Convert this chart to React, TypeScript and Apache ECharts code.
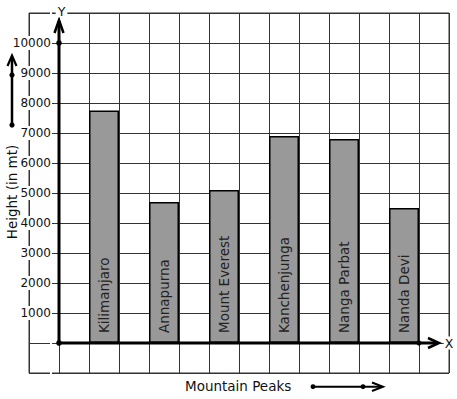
import React, { useEffect, useRef } from "react";
import * as echarts from "echarts";

// Data
const peaks = ["Kilimanjaro", "Annapurna", "Mount Everest", "Kanchenjunga", "Nanga Parbat", "Nanda Devi"];
const heights = [7750, 4700, 5100, 6900, 6800, 4500];
const slotCount = 14; // grid columns on the x side
const peakSlots = [2, 4, 6, 8, 10, 12]; // which column each peak's bar sits in
const yTickLabels = [1000, 2000, 3000, 4000, 5000, 6000, 7000, 8000, 9000, 10000];
const yAxisTitle = "Height (in mt)";
const xAxisTitle = "Mountain Peaks";

const FONT = "DejaVu Sans";
const GRID_COLOR = "#333";

export default function App() {
  const ref = useRef<HTMLDivElement>(null);

  useEffect(() => {
    if (!ref.current) return;
    const chart = echarts.init(ref.current, null, { renderer: "svg" });

    const categories = Array.from({ length: slotCount }, (_, i) => String(i));
    const barData = categories.map((_, i) => {
      const k = peakSlots.indexOf(i);
      return k >= 0 ? heights[k] : "-";
    });

    chart.setOption({
      animation: false,
      textStyle: { fontFamily: FONT },
      grid: {
        left: 29,
        top: 13,
        width: 420,
        height: 360,
        show: true,
        borderColor: GRID_COLOR,
        borderWidth: 1,
        backgroundColor: "transparent",
      },
      xAxis: {
        type: "category",
        data: categories,
        boundaryGap: true,
        z: 0,
        axisLine: { show: false },
        axisTick: { show: false },
        axisLabel: { show: false },
        splitLine: { show: true, interval: 0, lineStyle: { color: GRID_COLOR, width: 1 } },
      },
      yAxis: {
        type: "value",
        min: -1000,
        max: 11000,
        interval: 1000,
        offset: -30,
        z: 1,
        axisLine: { show: false },
        axisTick: { show: false },
        axisLabel: {
          margin: 7,
          fontSize: 12,
          fontFamily: FONT,
          color: "#111",
          backgroundColor: "#fff",
          padding: [1, 1],
          formatter: (v: number) => (yTickLabels.indexOf(v) >= 0 ? String(v) : ""),
        },
        splitLine: { show: true, lineStyle: { color: GRID_COLOR, width: 1 } },
      },
      series: [
        {
          type: "bar",
          data: barData,
          barWidth: "100%",
          barCategoryGap: 0,
          z: 2,
          itemStyle: { color: "#999999", borderColor: "#000", borderWidth: 1.5 },
          label: {
            show: true,
            position: "insideBottom",
            rotate: 90,
            align: "left",
            verticalAlign: "middle",
            distance: 10,
            fontSize: 13.5,
            fontFamily: FONT,
            color: "#222",
            formatter: (p: any) => {
              const k = peakSlots.indexOf(p.dataIndex);
              return k >= 0 ? peaks[k] : "";
            },
          },
        },
      ],
    });

    const px = (xi: number, y: number) => chart.convertToPixel({ gridIndex: 0 }, [xi, y]) as number[];
    const c0 = px(0, 0);
    const c1 = px(1, 0);
    const half = (c1[0] - c0[0]) / 2;
    const ox = c0[0] + half; // y axis position
    const oy = c0[1]; // value 0
    const yTop = px(0, 10000)[1];
    const lastBarRight = px(peakSlots[peakSlots.length - 1], 0)[0] + half;
    const xEnd = 439;
    const yTip = 20;

    const black = "#000";
    const g: any[] = [
      // Y axis
      { type: "line", z: 10, shape: { x1: ox, y1: oy, x2: ox, y2: yTip + 1 }, style: { stroke: black, lineWidth: 3 } },
      { type: "polyline", z: 10, shape: { points: [[ox - 4.5, yTip + 13], [ox, yTip], [ox + 4.5, yTip + 13]] }, style: { stroke: black, lineWidth: 2.5, fill: "none" } },
      { type: "circle", z: 11, shape: { cx: ox, cy: yTop, r: 2.8 }, style: { fill: black } },
      { type: "circle", z: 11, shape: { cx: ox, cy: oy, r: 2.8 }, style: { fill: black } },
      { type: "text", z: 10, x: ox + 2.5, y: 11, style: { text: "Y", fontSize: 12.5, fontFamily: FONT, fill: "#111", align: "center", verticalAlign: "middle", backgroundColor: "#fff", padding: [0, 2] } },
      // X axis
      { type: "line", z: 10, shape: { x1: ox, y1: oy, x2: xEnd - 1, y2: oy }, style: { stroke: black, lineWidth: 3 } },
      { type: "polyline", z: 10, shape: { points: [[xEnd - 11, oy - 5], [xEnd, oy], [xEnd - 11, oy + 5]] }, style: { stroke: black, lineWidth: 2.5, fill: "none" } },
      { type: "circle", z: 11, shape: { cx: lastBarRight, cy: oy, r: 2.5 }, style: { fill: black } },
      { type: "text", z: 10, x: 449, y: 343, style: { text: "X", fontSize: 12.5, fontFamily: FONT, fill: "#111", align: "center", verticalAlign: "middle", backgroundColor: "#fff", padding: [0, 1] } },
      // Y title with arrow
      { type: "text", z: 10, x: 12, y: 192, rotation: Math.PI / 2, style: { text: yAxisTitle, fontSize: 13.5, fontFamily: FONT, fill: "#111", align: "center", verticalAlign: "middle" } },
      { type: "line", z: 10, shape: { x1: 12, y1: 125, x2: 12, y2: 57 }, style: { stroke: black, lineWidth: 2.5 } },
      { type: "polyline", z: 10, shape: { points: [[7.5, 66], [12, 55.5], [16.5, 66]] }, style: { stroke: black, lineWidth: 2.2, fill: "none" } },
      { type: "circle", z: 11, shape: { cx: 12, cy: 75, r: 2.6 }, style: { fill: black } },
      { type: "circle", z: 11, shape: { cx: 12, cy: 125, r: 2.6 }, style: { fill: black } },
      // X title with arrow
      { type: "text", z: 10, x: 185, y: 386, style: { text: xAxisTitle, fontSize: 13.5, fontFamily: FONT, fill: "#111", align: "left", verticalAlign: "middle" } },
      { type: "line", z: 10, shape: { x1: 313, y1: 386.7, x2: 382, y2: 386.7 }, style: { stroke: black, lineWidth: 2 } },
      { type: "polyline", z: 10, shape: { points: [[372, 382.5], [383, 386.7], [372, 391]] }, style: { stroke: black, lineWidth: 2, fill: "none" } },
      { type: "circle", z: 11, shape: { cx: 313, cy: 386.7, r: 2.4 }, style: { fill: black } },
      { type: "circle", z: 11, shape: { cx: 363, cy: 386.7, r: 2.4 }, style: { fill: black } },
    ];
    chart.setOption({ graphic: g });

    return () => chart.dispose();
  }, []);

  return (
    <div
      ref={ref}
      style={{ position: "fixed", left: 0, top: 0, width: 457, height: 399, background: "#fff" }}
    />
  );
}
